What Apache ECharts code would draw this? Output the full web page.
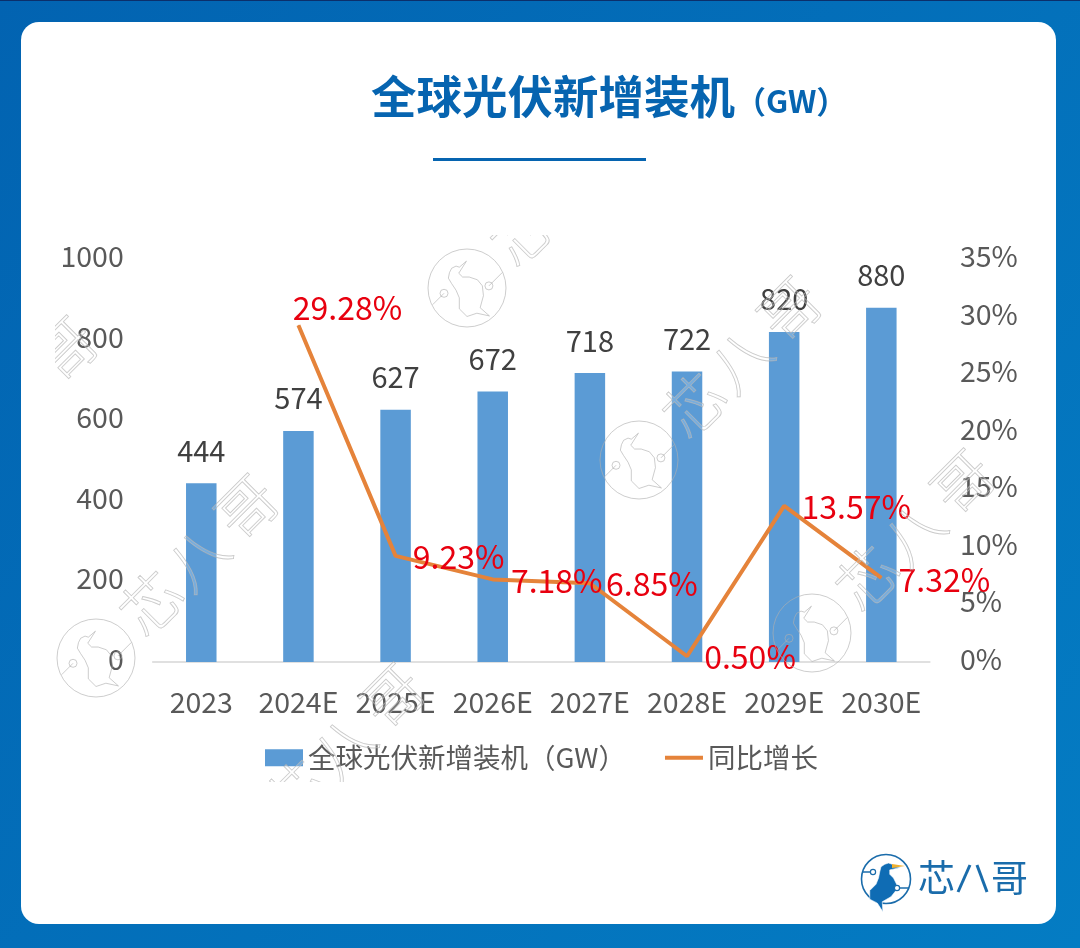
<!DOCTYPE html>
<html><head><meta charset="utf-8">
<style>html,body{margin:0;padding:0;background:#0469b6}#c{width:1080px;height:948px}</style>
<script src="https://cdn.jsdelivr.net/npm/echarts@6/dist/echarts.min.js"></script></head>
<body><div id="c"></div>
<script>
const categories = ['2023','2024E','2025E','2026E','2027E','2028E','2029E','2030E'];
const installs = [444,574,627,672,718,722,820,880];
const growth = [null,29.28,9.23,7.18,6.85,0.50,13.57,7.32];
const leftTicks = [0,200,400,600,800,1000];
const rightTicks = [0,5,10,15,20,25,30,35];
const barName = '全球光伏新增装机（GW）';
const lineName = '同比增长';
const growthLabelShift = [null,[49,-17],[63,1],[64,1],[62,1],[63,1],[72,1],[63,2]];

const FONT = '"Noto Sans CJK SC","Noto Sans",sans-serif';
const BLUE = '#0664b0';
// decorative logo outline, relative to the logo circle's centre (radius 25)
const BIRD = [[-1,-15],[2,-16],[5,-15],[6,-13],[12,-12.5],[3,-10.5],[3,-7],[6,-4],[8.5,1],[8,6],[4,11],[-3,15],[-2.5,23],[-7,16],[-13,13],[-13,6],[-8,1],[-6,-4],[-5,-9],[-4,-13]];
const birdAt = (cx,cy,k)=>BIRD.map(p=>[cx+p[0]*k,cy+p[1]*k]);
const C45 = Math.SQRT1_2;
const turn = (cx,cy,x,y)=>[cx+(x+y)*C45,cy+(y-x)*C45];

function watermark(cx, cy, parts){
  const stroke = 'rgba(175,175,175,0.7)', els = [];
  const z = 50, base = {fill:'none',stroke,lineWidth:0.9};
  if (parts.includes('o')) {
    els.push({type:'circle',z,shape:{cx,cy,r:39},style:base});
    els.push({type:'polygon',z,shape:{points:BIRD.map(p=>turn(cx,cy,p[0]*1.55,p[1]*1.55))},style:base});
    const a = turn(cx,cy,-20,-12.5), b = turn(cx,cy,17,14);
    els.push({type:'circle',z,shape:{cx:a[0],cy:a[1],r:4},style:base});
    els.push({type:'circle',z,shape:{cx:b[0],cy:b[1],r:4},style:base});
    const a2 = turn(cx,cy,-36,-12.5), b2 = turn(cx,cy,36,14);
    els.push({type:'line',z,shape:{x1:a[0],y1:a[1],x2:a2[0],y2:a2[1]},style:base});
    els.push({type:'line',z,shape:{x1:b[0],y1:b[1],x2:b2[0],y2:b2[1]},style:base});
  }
  [['x','芯',78],['b','八',142],['g','哥',213]].forEach(([k,t,d])=>{
    if(!parts.includes(k)) return;
    const s = d*C45;
    els.push({type:'text',z,x:cx+s,y:cy-s,rotation:Math.PI/4,
      style:{text:t,font:'300 60px '+FONT,align:'center',verticalAlign:'middle',
        fill:'rgba(255,255,255,0.18)',stroke,lineWidth:0.9}});
  });
  return els;
}

const graphics = [
  {type:'rect',z:-10,shape:{x:0,y:0,width:1080,height:948},style:{fill:new echarts.graphic.LinearGradient(0,0,1,1,[{offset:0,color:'#0263b1'},{offset:1,color:'#047cc3'}])}},
  {type:'rect',z:-9,shape:{x:0,y:0,width:1080,height:1},style:{fill:'#0b2f6b'}},
  {type:'rect',z:-8,shape:{x:21,y:22,width:1035,height:902,r:18},style:{fill:'#ffffff'}},
  {type:'text',z:5,x:371,y:97,style:{text:'全球光伏新增装机',font:'700 45.5px '+FONT,fill:BLUE,verticalAlign:'middle'}},
  {type:'text',z:5,x:735,y:101,style:{text:'（GW）',font:'700 31px '+FONT,fill:BLUE,verticalAlign:'middle'}},
  ...watermark(96,658,'oxbg'),
  ...watermark(467,288,'ox'),
  ...watermark(639,460,'oxbg'),
  ...watermark(812,633,'oxbg'),
  ...watermark(242,847,'xbg'),
  ...watermark(-85,500,'g'),
  {type:'rect',z:60,shape:{x:30,y:170,width:1010,height:65},style:{fill:'#fff'}},
  {type:'rect',z:60,shape:{x:22,y:235,width:33,height:500},style:{fill:'#fff'}},
  {type:'rect',z:60,shape:{x:200,y:782,width:400,height:70},style:{fill:'#fff'}},
  {type:'rect',z:61,shape:{x:433,y:158,width:213,height:3},style:{fill:BLUE}},
  // logo
  {type:'circle',z:5,shape:{cx:886,cy:879,r:24.5},style:{fill:'none',stroke:'#1a6cab',lineWidth:1.6}},
  {type:'polygon',z:6,shape:{points:birdAt(886,883,1.25)},style:{fill:'#0f6cb4',stroke:'#fff',lineWidth:0.6}},
  {type:'polygon',z:7,shape:{points:[[892,864],[905,866],[892,868]]},style:{fill:'#f0b030'}},
  {type:'line',z:5,shape:{x1:862,y1:872,x2:873,y2:872},style:{stroke:'#1a6cab',lineWidth:1.5}},
  {type:'circle',z:6,shape:{cx:873,cy:872,r:2.6},style:{fill:'#fff',stroke:'#1a6cab',lineWidth:1.2}},
  {type:'line',z:5,shape:{x1:897,y1:888,x2:909,y2:888},style:{stroke:'#1a6cab',lineWidth:1.5}},
  {type:'circle',z:6,shape:{cx:897,cy:888,r:2.6},style:{fill:'#fff',stroke:'#1a6cab',lineWidth:1.2}},
  {type:'text',z:5,x:918,y:878,style:{text:'芯',font:'400 37px '+FONT,fill:'#1a6cab',verticalAlign:'middle'}},
  {type:'line',z:5,shape:{x1:958,y1:892,x2:970,y2:865},style:{stroke:'#1a6cab',lineWidth:3}},
  {type:'line',z:5,shape:{x1:977,y1:865,x2:987,y2:892},style:{stroke:'#1a6cab',lineWidth:3}},
  {type:'text',z:5,x:991,y:878,style:{text:'哥',font:'400 37px '+FONT,fill:'#1a6cab',verticalAlign:'middle'}}
];

const chart = echarts.init(document.getElementById('c'),null,{renderer:'canvas',width:1080,height:948});
chart.setOption({
  animation:false,
  textStyle:{fontFamily:FONT},
  graphic:{elements:graphics},
  legend:{
    left:260,top:739,itemGap:37,itemWidth:38,itemHeight:17,
    data:[{name:barName,icon:'rect'},{name:lineName,itemStyle:{opacity:0},lineStyle:{width:4,color:'#e5833a'}}],
    textStyle:{fontSize:27.5,color:'#595959',fontFamily:FONT}
  },
  grid:{left:152.7,right:150.1,top:259.5,bottom:286},
  xAxis:{type:'category',data:categories,
    axisTick:{show:false},axisLine:{lineStyle:{color:'#d6d6d6',width:1.5}},
    axisLabel:{fontSize:28.5,color:'#595959',margin:26,interval:0,hideOverlap:false}},
  yAxis:[
    {type:'value',min:leftTicks[0],max:leftTicks[leftTicks.length-1],interval:leftTicks[1]-leftTicks[0],
     splitLine:{show:false},axisLine:{show:false},axisTick:{show:false},
     axisLabel:{fontSize:28.5,color:'#595959',margin:29,verticalAlign:'bottom',lineHeight:6,formatter:v=>String(v)}},
    {type:'value',min:rightTicks[0],max:rightTicks[rightTicks.length-1],interval:rightTicks[1]-rightTicks[0],
     splitLine:{show:false},axisLine:{show:false},axisTick:{show:false},
     axisLabel:{fontSize:28.5,color:'#595959',margin:30,verticalAlign:'bottom',lineHeight:6,formatter:'{value}%'}}
  ],
  series:[
    {name:barName,type:'bar',data:installs,barWidth:30.5,itemStyle:{color:'#5b9bd5'},
     label:{show:true,position:'top',distance:18,fontSize:29,color:'#404040'}},
    {name:lineName,type:'line',yAxisIndex:1,z:4,
     data:growth.map((v,i)=>v===null?null:{value:v,label:{offset:growthLabelShift[i]}}),
     symbol:'circle',symbolSize:1,showAllSymbol:true,
     lineStyle:{color:'#e5833a',width:4},itemStyle:{color:'#e5833a'},
     label:{show:true,position:'inside',fontSize:32,color:'#e8000f',formatter:p=>p.value.toFixed(2)+'%'}}
  ]
});
</script></body></html>
